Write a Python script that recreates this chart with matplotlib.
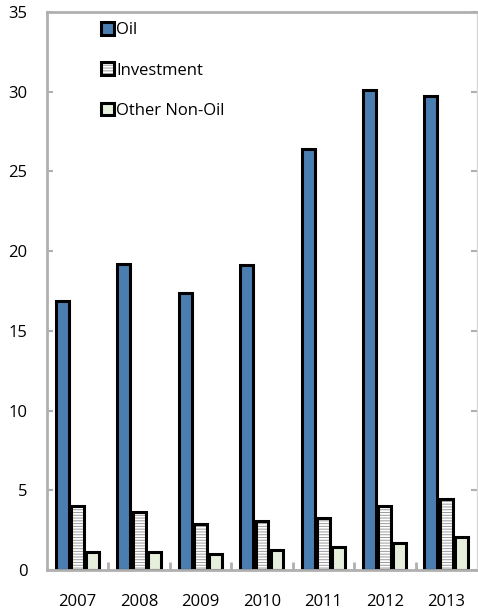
import matplotlib.pyplot as plt
import numpy as np
from matplotlib.ticker import FixedLocator

years = ["2007", "2008", "2009", "2010", "2011", "2012", "2013"]
oil = [16.9, 19.2, 17.4, 19.1, 26.4, 30.1, 29.7]
investment = [4.0, 3.65, 2.9, 3.1, 3.25, 4.0, 4.45]
other_non_oil = [1.15, 1.15, 1.0, 1.25, 1.45, 1.7, 2.1]

plt.rcParams['font.family'] = ['Open Sans', 'DejaVu Sans']
plt.rcParams['hatch.linewidth'] = 0.7

fig = plt.figure(figsize=(4.78, 6.10), dpi=100)
ax = fig.add_axes([47 / 478, 40 / 610, 430 / 478, 558 / 610])

x = np.arange(len(years))
w = 0.21
edge = dict(edgecolor='black', linewidth=2.2)
oil_bars = ax.bar(x - 0.25, oil, w, color='#4a7eb0', **edge)
# grey hatching first, black outline drawn over it
inv_hatch = ax.bar(x, investment, w, color='white', hatch='------',
                   edgecolor='#9a9a9a', linewidth=0)
inv_bars = ax.bar(x, investment, w, fill=False, **edge)
other_bars = ax.bar(x + 0.245, other_non_oil, w, color='#e6efdc', **edge)

ax.set_xlim(-0.5, len(years) - 0.5)
ax.set_ylim(0, 35)
ax.set_yticks(range(0, 36, 5))
ax.set_xticks(x)
ax.set_xticklabels(years)
ax.xaxis.set_minor_locator(FixedLocator(x[:-1] + 0.5))

gray = '#b0b0b0'
for side in ['left', 'top', 'bottom']:
    ax.spines[side].set_color(gray)
    ax.spines[side].set_linewidth(2.0)
ax.spines['right'].set_color('#d8d8d8')
ax.spines['right'].set_linewidth(1.0)

ax.tick_params(axis='y', direction='in', length=4, width=1.5, color=gray,
               labelsize=12, pad=14, right=True)
ax.tick_params(axis='x', which='major', length=0, labelsize=12, pad=17)
ax.tick_params(axis='x', which='minor', direction='in', length=6, width=2, color=gray)

ax.legend([oil_bars, (inv_hatch, inv_bars), other_bars],
          ['Oil', 'Investment', 'Other Non-Oil'],
          loc='upper left', bbox_to_anchor=(0.109, 0.994), frameon=False,
          fontsize=12, handlelength=0.8, handleheight=0.8, handletextpad=0.15,
          labelspacing=1.45, borderaxespad=0)

fig.savefig('out.png', dpi=100)
